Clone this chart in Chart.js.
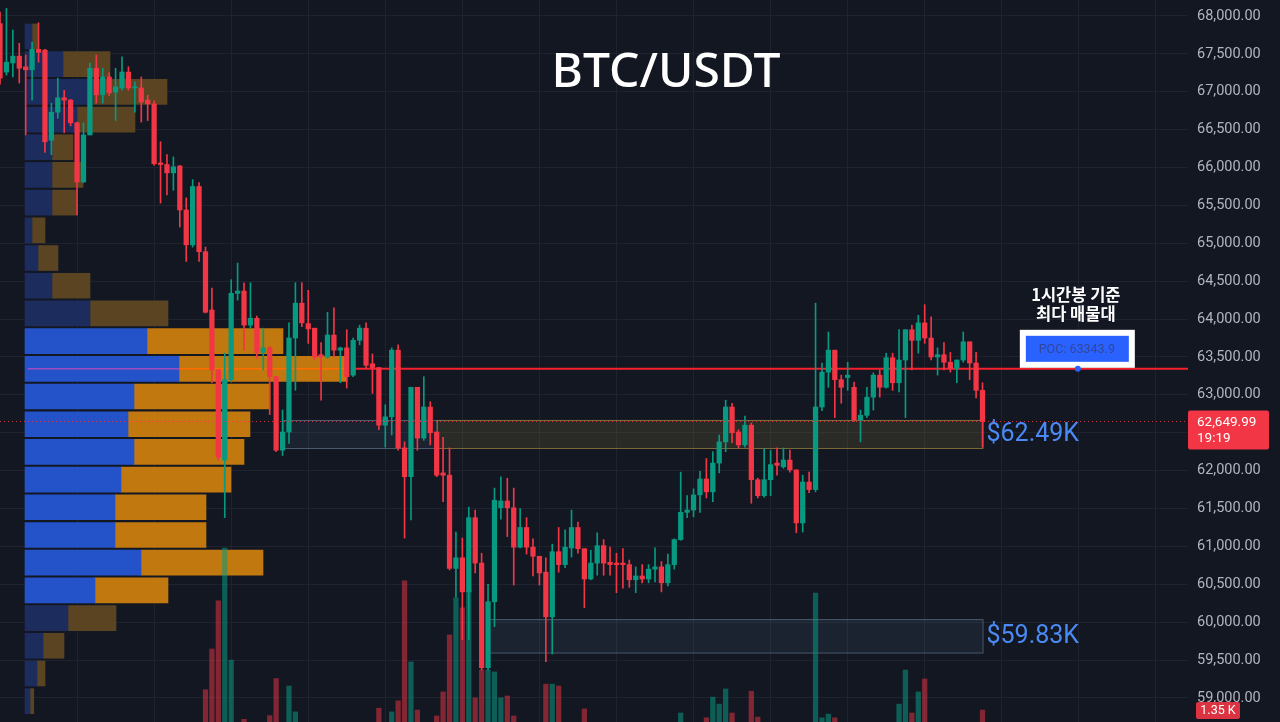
<!DOCTYPE html>
<html lang="ko">
  <head>
    <meta charset="utf-8" />
    <title>BTC/USDT</title>
    <style>
      * {
        margin: 0;
        padding: 0;
      }
      body {
        background: #131722;
        width: 1280px;
        height: 722px;
        overflow: hidden;
      }
      .chartBox {
        width: 1280px;
        height: 722px;
      }
    </style>
  </head>
  <body>
    <div class="chartBox">
      <canvas id="myChart" width="1280" height="722"></canvas>
    </div>
    <script src="https://cdn.jsdelivr.net/npm/chart.js"></script>
    <script>
      // setup - 1h candles, oldest first
      const opens = [
        67900, 67260, 67380, 67470, 67330, 67290, 67560, 67550, 66360, 66730,
        66920, 66890, 66590, 65810, 66430, 67310, 66960, 67195, 66995, 67050,
        67260, 67050, 67050, 66890, 66840, 66060, 66040, 65930, 66020, 65440,
        64980, 65750, 64890, 64120, 63330, 62140, 63200, 64340, 64370, 63920,
        64010, 63560, 63620, 63240, 62270, 62510, 63750, 64210, 63940, 63880,
        63530, 63500, 63790, 63590, 63620, 63260, 63720, 63880, 63410, 63360,
        62600, 62710, 63590, 62300, 61920, 63100, 62430, 62840, 62510, 61970,
        61940, 60710, 60850, 60400, 61380, 60780, 59400, 60270, 61510, 61600,
        61510, 60990, 61250, 60990, 60870, 60660, 60070, 60930, 60760, 60980,
        61250, 60970, 60570, 60780, 61010, 60790, 60780, 60780, 60760, 60560,
        60610, 60570, 60700, 60730, 60520, 60760, 61090, 61450, 61480, 61680,
        61890, 61720, 62100, 62380, 62840, 62510, 62340, 62600, 61880, 61670,
        61880, 62100, 62050, 62140, 62010, 61310, 61850, 61750, 62840, 63300,
        63590, 63200, 63230, 63100, 62670, 62730, 62970, 63260, 63100, 63490,
        63160, 63460, 63860, 63720, 63950, 63750, 63500, 63530, 63430, 63350,
        63460, 63700, 63420, 63060
      ];
      const highs = [
        68050, 68100, 67815, 67640, 67485, 67655, 67910, 67560, 66850, 67180,
        67020, 66900, 66600, 66590, 67380, 67485, 67310, 67250, 67310, 67460,
        67330, 67130, 67195, 66955, 66880, 66340, 66170, 66140, 66030, 65600,
        65840, 65800, 64950, 64410, 63330, 63550, 64520, 64740, 64480, 64480,
        64040, 63880, 63640, 63240, 62800, 63950, 64480, 64480, 64380, 63880,
        63690, 64090, 64150, 63630, 63860, 63750, 63920, 63950, 63540, 63360,
        62870, 63620, 63660, 62380, 63100, 63100, 63240, 62910, 62510, 62440,
        62300, 61190, 61110, 61520, 61480, 60910, 60500, 61770, 61920, 61900,
        61770, 61500, 61380, 61100, 60870, 60850, 61030, 61250, 61220, 61480,
        61320, 60970, 60950, 61180, 61090, 60990, 60910, 60970, 60820, 60730,
        60760, 60760, 60980, 60800, 60900, 61100, 61980, 61670, 61760, 61990,
        62160, 62250, 62470, 62930, 62890, 62540, 62720, 62630, 61900, 62290,
        62270, 62300, 62300, 62270, 62010, 61940, 61980, 64210, 63420, 63830,
        63590, 63260, 63430, 63170, 62800, 63100, 63290, 63330, 63550, 63550,
        63860, 63860, 63920, 64050, 64190, 64030, 63620, 63690, 63560, 63460,
        63830, 63700, 63560, 63160
      ];
      const lows = [
        67100, 67220, 67195, 67115, 66430, 66890, 67390, 66200, 66170, 66650,
        66460, 66550, 65375, 65800, 66430, 66850, 66850, 66950, 66620, 67020,
        67020, 66730, 66600, 66620, 66030, 65530, 65640, 65700, 65215, 64760,
        64950, 64760, 64080, 63160, 62140, 61380, 63170, 64250, 63590, 63880,
        63480, 63330, 62740, 62250, 62200, 62360, 63060, 63900, 63680, 63460,
        62930, 63480, 63500, 63160, 63090, 63240, 63660, 63350, 63020, 62540,
        62310, 62470, 62270, 61110, 61350, 62270, 62400, 62340, 61920, 61590,
        60690, 60330, 59770, 59770, 60650, 59370, 59370, 59940, 61360, 61130,
        60490, 60980, 60900, 60610, 60490, 59480, 59580, 60660, 60720, 60860,
        60910, 60190, 60560, 60620, 60620, 60620, 60390, 60450, 60460, 60390,
        60520, 60520, 60530, 60400, 60480, 60700, 61080, 61380, 61390, 61450,
        61640, 61590, 61970, 62250, 62370, 62300, 62310, 61570, 61640, 61650,
        61670, 61940, 62030, 61980, 61180, 61190, 61710, 61720, 62790, 63100,
        62700, 62890, 63060, 62650, 62380, 62700, 62800, 62970, 63090, 63060,
        63040, 62700, 63330, 63550, 63680, 63460, 63260, 63330, 63300, 63160,
        63430, 63200, 62960, 62310
      ];
      const closes = [
        67180, 67390, 67470, 67310, 67290, 67560, 67520, 66340, 66730, 66920,
        66890, 66590, 65810, 66430, 67310, 66960, 67195, 66985, 67065, 67260,
        67050, 67065, 66865, 66840, 66050, 66040, 65930, 66010, 65440, 64980,
        65750, 64890, 64090, 63330, 62180, 63200, 64340, 64370, 63920, 64010,
        63560, 63620, 63240, 62270, 62510, 63750, 64210, 63950, 63870, 63500,
        63500, 63790, 63590, 63620, 63240, 63720, 63880, 63390, 63360, 62600,
        62710, 63590, 62300, 61920, 63100, 62430, 62840, 62500, 61940, 61940,
        60710, 60850, 60400, 61380, 60780, 59400, 60270, 61610, 61600, 61510,
        60990, 61250, 60990, 60870, 60650, 60070, 60930, 60760, 60990, 61250,
        60970, 60570, 60780, 61010, 60780, 60760, 60760, 60760, 60560, 60610,
        60570, 60700, 60730, 60520, 60760, 61090, 61450, 61480, 61680, 61890,
        61720, 62100, 62380, 62840, 62500, 62340, 62600, 61880, 61670, 61880,
        62080, 62070, 62140, 62010, 61310, 61850, 61750, 62840, 63300, 63590,
        63200, 63100, 63260, 62670, 62730, 62970, 63260, 63100, 63490, 63160,
        63460, 63860, 63720, 63950, 63750, 63500, 63530, 63430, 63350, 63460,
        63700, 63420, 63060, 62649.99
      ];
      // volume in K BTC
      const volumes = [
        0.7, 0.6, 0.5, 0.6, 0.8, 0.7, 0.6, 1.0, 0.8, 0.6,
        0.5, 0.6, 0.9, 0.7, 0.9, 0.7, 0.6, 0.5, 0.6, 0.6,
        0.5, 0.5, 0.6, 0.5, 0.8, 0.7, 0.6, 0.5, 0.8, 0.8,
        0.9, 0.9, 1.9, 3.0, 4.3, 5.73, 2.7, 1.0, 1.1, 0.8,
        0.9, 0.7, 1.2, 2.2, 1.0, 2.0, 1.3, 0.9, 0.7, 0.8,
        0.8, 0.7, 0.7, 0.6, 0.8, 0.7, 0.6, 0.8, 0.7, 1.4,
        0.8, 1.3, 1.6, 4.84, 2.65, 1.35, 0.9, 0.9, 1.19, 1.84,
        3.38, 4.38, 4.11, 4.6, 1.68, 2.43, 2.43, 2.38, 1.68, 1.73,
        1.19, 0.9, 0.8, 0.9, 0.9, 2.05, 2.05, 2.0, 0.9, 0.9,
        0.8, 1.38, 0.8, 0.8, 0.7, 0.6, 0.7, 0.6, 0.7, 0.6,
        0.5, 0.6, 0.6, 0.7, 0.7, 0.8, 1.27, 0.8, 0.8, 0.9,
        1.14, 1.7, 1.51, 1.92, 1.27, 0.9, 0.9, 1.86, 1.16, 0.9,
        0.8, 0.6, 0.6, 0.7, 1.0, 0.9, 0.7, 4.51, 1.14, 1.24,
        1.14, 0.8, 0.7, 0.9, 0.8, 0.8, 0.8, 0.7, 0.8, 0.8,
        1.51, 2.43, 1.27, 1.84, 2.19, 0.9, 0.7, 0.7, 0.6, 0.7,
        0.8, 0.9, 1.0, 1.35
      ];

      // price axis tick labels
      const priceTicks = [
        59000, 59500, 60000, 60500, 61000, 61500, 62000, 62500, 63000, 63500,
        64000, 64500, 65000, 65500, 66000, 66500, 67000, 67500, 68000
      ];

      // visible range volume profile (row centre price, buy / sell volume)
      const profilePrices = [
        67729.9, 67364.4, 66998.9, 66633.4, 66267.9, 65902.4, 65536.9, 65171.4,
        64805.9, 64440.4, 64074.9, 63709.4, 63343.9, 62978.4, 62612.9, 62247.4,
        61881.9, 61516.4, 61150.9, 60785.4, 60419.9, 60054.4, 59688.9, 59323.4,
        58957.9
      ];
      const profileBuy = [
        0.56, 3.04, 5.44, 4.16, 2.16, 2.16, 2.16, 0.56, 1.04, 2.16, 5.2, 9.76,
        12.32, 8.72, 8.24, 8.72, 7.68, 7.2, 7.2, 9.28, 5.6, 3.44, 1.44, 0.96, 0.4
      ];
      const profileSell = [
        0.48, 3.76, 5.92, 4.64, 1.68, 2.48, 2.0, 1.04, 1.6, 3.04, 6.24, 10.88,
        13.44, 10.88, 9.76, 8.8, 8.8, 7.28, 7.28, 9.76, 5.84, 3.84, 1.68, 0.64, 0.3
      ];
      const pocPrice = 63343.9;
      const valueAreaHigh = 63709.4;
      const valueAreaLow = 60419.9;

      // support zones (candle index range, price range)
      const zoneStarts = [44, 68, 76];
      const zoneEnds = [68, 153, 153];
      const zoneHighs = [62669, 62669, 60040];
      const zoneLows = [62299, 62299, 59600];
      const zoneKinds = ["blue", "gold", "blue"];
      const zoneLabels = ["", "$62.49K", "$59.83K"];

      const candleCountdown = "19:19";

      const upColor = "#089981";
      const downColor = "#f23645";
      const gridColor = "#1f2330";

      const isUp = (i) => closes[i] >= opens[i];
      const inValueArea = (p) => p <= valueAreaHigh + 1 && p >= valueAreaLow - 1;
      const fmtPrice = (v) =>
        v.toLocaleString("en-US", {
          minimumFractionDigits: 2,
          maximumFractionDigits: 2
        });

      const zoneStyles = {
        blue: { fill: "rgba(80, 115, 140, 0.14)", line: "rgba(110, 135, 155, 0.6)" },
        gold: { fill: "rgba(105, 95, 50, 0.28)", line: "rgba(165, 140, 65, 0.7)" }
      };

      // plugins
      const overlayPlugin = {
        id: "overlayPlugin",
        beforeDatasetsDraw(chart) {
          const { ctx, scales: { x, y } } = chart;
          ctx.save();
          zoneStarts.forEach((s, i) => {
            const left = x.getPixelForValue(s);
            const right = x.getPixelForValue(zoneEnds[i]);
            const top = y.getPixelForValue(zoneHighs[i]);
            const bottom = y.getPixelForValue(zoneLows[i]);
            const st = zoneStyles[zoneKinds[i]];
            ctx.fillStyle = st.fill;
            ctx.fillRect(left, top, right - left, bottom - top);
            ctx.strokeStyle = st.line;
            ctx.lineWidth = 1;
            ctx.strokeRect(left + 0.5, top + 0.5, right - left, bottom - top);
          });
          ctx.restore();
        },
        afterDatasetsDraw(chart) {
          const { ctx, chartArea, scales: { y } } = chart;
          const py = Math.round(y.getPixelForValue(closes[closes.length - 1])) + 0.5;
          ctx.save();
          ctx.strokeStyle = "rgba(242, 54, 69, 0.85)";
          ctx.lineWidth = 1;
          ctx.setLineDash([1, 3]);
          ctx.beginPath();
          ctx.moveTo(chartArea.left, py);
          ctx.lineTo(chartArea.right, py);
          ctx.stroke();
          ctx.restore();
        },
        afterDraw(chart) {
          const { ctx, chartArea, scales: { x, y, yv } } = chart;
          const last = closes.length - 1;
          ctx.save();

          // zone labels
          ctx.font = "25px Roboto";
          ctx.fillStyle = "#4a8af4";
          ctx.textAlign = "left";
          ctx.textBaseline = "middle";
          zoneLabels.forEach((lbl, i) => {
            if (!lbl) return;
            const mid = (zoneHighs[i] + zoneLows[i]) / 2;
            ctx.fillText(lbl, x.getPixelForValue(zoneEnds[i]) + 4, y.getPixelForValue(mid) + 1);
          });

          // last price badge
          const py = y.getPixelForValue(closes[last]);
          ctx.fillStyle = downColor;
          ctx.beginPath();
          ctx.roundRect(chartArea.right, py - 11, 81, 39, 2);
          ctx.fill();
          ctx.fillStyle = "#ffffff";
          ctx.font = "13.5px Roboto";
          ctx.fillText(fmtPrice(closes[last]), chartArea.right + 9, py + 1);
          ctx.fillText(candleCountdown, chartArea.right + 9, py + 17);

          // last volume badge
          const vy = yv.getPixelForValue(volumes[last]);
          ctx.fillStyle = "rgba(242, 54, 69, 0.9)";
          ctx.beginPath();
          ctx.roundRect(chartArea.right + 8, vy - 8, 44, 17, 2);
          ctx.fill();
          ctx.fillStyle = "#ffffff";
          ctx.font = "12.5px Roboto";
          ctx.textAlign = "center";
          ctx.fillText(volumes[last].toFixed(2) + " K", chartArea.right + 30, vy + 1);

          // POC label box
          const bx = x.getPixelForValue(168);
          const by = y.getPixelForValue(pocPrice);
          ctx.fillStyle = "#ffffff";
          ctx.fillRect(bx - 59, by - 39, 115, 38);
          ctx.fillStyle = "#2962ff";
          ctx.fillRect(bx - 53, by - 33, 103, 26);
          ctx.fillStyle = "#34469a";
          ctx.font = "12.5px Roboto";
          ctx.fillText("POC: " + pocPrice.toFixed(1), bx - 2, by - 19);
          ctx.fillStyle = "#2962ff";
          ctx.beginPath();
          ctx.arc(bx - 1, by, 3, 0, Math.PI * 2);
          ctx.fill();

          ctx.fillStyle = "#ffffff";
          ctx.font = '600 16.5px "Noto Sans CJK KR"';
          ctx.fillText("1시간봉 기준", bx - 3, by - 74);
          ctx.fillText("최다 매물대", bx - 3, by - 55);

          // title
          ctx.font = '500 48px "Noto Sans"';
          ctx.textBaseline = "alphabetic";
          ctx.fillText("BTC/USDT", 666, 87);
          ctx.restore();
        }
      };

      const data = {
        datasets: [
          {
            type: "bar",
            label: "Body",
            data: opens.map((o, i) => ({ x: i, y: [o, closes[i]] })),
            backgroundColor: (ctx) => (isUp(ctx.dataIndex) ? upColor : downColor),
            barThickness: 4.6,
            minBarLength: 1,
            grouped: false,
            order: 1
          },
          {
            type: "bar",
            label: "Wick",
            data: lows.map((l, i) => ({ x: i, y: [l, highs[i]] })),
            backgroundColor: (ctx) => (isUp(ctx.dataIndex) ? upColor : downColor),
            barThickness: 1,
            grouped: false,
            order: 2
          },
          {
            type: "line",
            label: "POC",
            data: [
              { x: 55, y: pocPrice },
              { x: 185, y: pocPrice }
            ],
            borderColor: "#f5222d",
            borderWidth: 2,
            pointRadius: 0,
            order: 3
          },
          {
            type: "line",
            label: "POC sell",
            data: [
              { x: 28, y: pocPrice },
              { x: 54, y: pocPrice }
            ],
            borderColor: "#ff6d00",
            borderWidth: 1.5,
            pointRadius: 0,
            order: 3
          },
          {
            type: "line",
            label: "POC buy",
            data: [
              { x: 4.3, y: pocPrice },
              { x: 28, y: pocPrice }
            ],
            borderColor: "#a04cc0",
            borderWidth: 1.5,
            pointRadius: 0,
            order: 3
          },
          {
            type: "bar",
            label: "Volume",
            yAxisID: "yv",
            data: volumes.map((v, i) => ({ x: i, y: v })),
            backgroundColor: (ctx) =>
              isUp(ctx.dataIndex) ? "rgba(8, 153, 129, 0.55)" : "rgba(242, 54, 69, 0.5)",
            barThickness: 4.6,
            grouped: false,
            order: 5
          },
          {
            type: "bar",
            label: "Profile buy",
            indexAxis: "y",
            xAxisID: "xp",
            yAxisID: "y",
            data: profilePrices.map((p, i) => ({ y: p, x: [0, profileBuy[i]] })),
            backgroundColor: (ctx) =>
              inValueArea(profilePrices[ctx.dataIndex]) ? "#2453c9" : "#1c2c5c",
            barThickness: 25,
            grouped: false,
            order: 6
          },
          {
            type: "bar",
            label: "Profile sell",
            indexAxis: "y",
            xAxisID: "xp",
            yAxisID: "y",
            data: profilePrices.map((p, i) => ({
              y: p,
              x: [profileBuy[i], profileBuy[i] + profileSell[i]]
            })),
            backgroundColor: (ctx) =>
              inValueArea(profilePrices[ctx.dataIndex]) ? "#c0780f" : "#5a4422",
            barThickness: 25,
            grouped: false,
            order: 6
          }
        ]
      };

      // config
      const config = {
        type: "bar",
        data,
        options: {
          responsive: false,
          animation: false,
          layout: { padding: 0 },
          plugins: {
            legend: { display: false },
            tooltip: { enabled: false }
          },
          scales: {
            x: {
              type: "linear",
              min: 0,
              max: 185,
              offset: false,
              grid: {
                offset: false,
                drawTicks: false,
                color: (ctx) => (ctx.tick && ctx.tick.value > 0 ? gridColor : "rgba(0,0,0,0)")
              },
              border: { display: false },
              ticks: { display: false, stepSize: 12, includeBounds: false }
            },
            y: {
              type: "linear",
              position: "right",
              min: 58683,
              max: 68211,
              offset: false,
              grid: { offset: false, drawTicks: false, color: gridColor },
              border: { display: false },
              ticks: {
                padding: 9,
                color: "#b2b5be",
                font: { family: "Roboto", size: 14.5 },
                callback: (v) => fmtPrice(v)
              },
              afterBuildTicks(scale) {
                scale.ticks = priceTicks.map((v) => ({ value: v }));
              },
              afterFit(scale) {
                scale.width = 92;
                scale.paddingTop = 0;
                scale.paddingBottom = 0;
              }
            },
            // volume scale: zero sits below the visible area
            yv: {
              type: "linear",
              display: false,
              offset: false,
              min: 1.027,
              max: 20.54
            },
            xp: {
              type: "linear",
              axis: "x",
              display: false,
              offset: false,
              min: -2,
              max: 93.04
            }
          }
        },
        plugins: [overlayPlugin]
      };

      // render init block
      const myChart = new Chart(document.getElementById("myChart"), config);
    </script>
  </body>
</html>
